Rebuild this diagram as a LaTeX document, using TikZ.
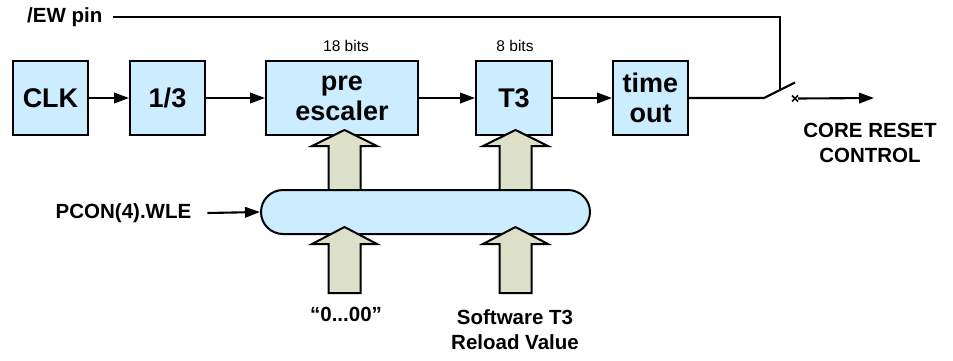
\documentclass[tikz,border=0pt]{standalone}
\usepackage{fontspec}
\setmainfont{Liberation Sans}
\usetikzlibrary{arrows.meta}
\definecolor{boxblue}{HTML}{CCECFF}
\definecolor{fatfill}{HTML}{DDE0C8}
\begin{document}
\begin{tikzpicture}[x=1pt,y=-1pt,
  blk/.style={draw, line width=2pt, fill=boxblue, minimum height=74pt, align=center,
    font=\fontsize{27}{30}\selectfont\bfseries, inner sep=0pt},
  lbl/.style={font=\fontsize{20.5}{25}\selectfont\bfseries, align=center, inner sep=0pt},
  smalllbl/.style={font=\fontsize{15.5}{18}\selectfont, inner sep=0pt},
  wire/.style={line width=2.1pt},
  arr/.style={wire, -{Triangle[length=15pt,width=10.5pt]}},
  fat/.style={draw, line width=2pt, fill=fatfill, line join=miter}]
\useasboundingbox (0,0) rectangle (953,360);

% blocks
\node[blk, minimum width=75pt] (clk) at (50.5,98) {CLK};
\node[blk, minimum width=75pt] (div) at (167.5,98) {1/3};
\node[blk, minimum width=152pt] (pre) at (342,98) {pre\\escaler};
\node[blk, minimum width=76pt] (t3) at (514,98) {T3};
\node[blk, minimum width=75pt] (to) at (650.5,98) {time\\out};

\node[smalllbl] (b18) at (346,46) {18 bits};
\node[smalllbl] (b8) at (515,46) {8 bits};

% horizontal chain
\draw[arr] (clk) -- (div);
\draw[arr] (div) -- (pre);
\draw[arr] (pre) -- (t3);
\draw[arr] (t3) -- (to);

% switch
\coordinate (pivot) at (764,98);
\coordinate (blade) at (795,82.5);
\coordinate (ewdrop) at (780,90);
\coordinate (outend) at (874,98);
\draw[wire] (to.east) -- (pivot) -- (blade);
\node[inner sep=0pt, minimum size=0pt] (xm) at (795,98.5) {};
\draw[line width=1.5pt] ([shift={(-3,-3)}]xm.center) -- ([shift={(3,3)}]xm.center)
  ([shift={(-3,3)}]xm.center) -- ([shift={(3,-3)}]xm.center);
\draw[arr] ([xshift=3pt]xm.center) -- (outend);
\node[lbl] (core) at (870,143) {CORE RESET\\CONTROL};

% /EW pin
\node[lbl, anchor=west] (ew) at (27,17) {/EW pin};
\draw[wire] ([xshift=10pt]ew.east) -- (ewdrop |- ew.east) -- (ewdrop);

% upper fat arrows (behind bus)
\draw[fat] (344.5,130) -- (377,146) -- (360.5,146) -- (360.5,200) -- (328.5,200) -- (328.5,146) -- (312,146) -- cycle;
\draw[fat] (515.5,130) -- (548,146) -- (531.5,146) -- (531.5,200) -- (499.5,200) -- (499.5,146) -- (483,146) -- cycle;

% bus
\node[draw, line width=2pt, fill=boxblue, rounded corners=22pt, minimum width=329pt,
  minimum height=44pt, inner sep=0pt] (bus) at (425.5,212) {};

% lower fat arrows
\draw[fat] (344.5,227) -- (377,244) -- (360.5,244) -- (360.5,293) -- (328.5,293) -- (328.5,244) -- (312,244) -- cycle;
\draw[fat] (515.5,227) -- (548,244) -- (531.5,244) -- (531.5,293) -- (499.5,293) -- (499.5,244) -- (483,244) -- cycle;

% PCON
\node[lbl] (pcon) at (123.5,213) {PCON(4).WLE};
\draw[arr] ([xshift=16pt]pcon.east) -- (bus.west);

% bottom labels
\node[lbl] (zero) at (346,314) {“0...00”};
\node[lbl] (sw) at (515,329.5) {Software T3\\Reload Value};
\end{tikzpicture}
\end{document}
